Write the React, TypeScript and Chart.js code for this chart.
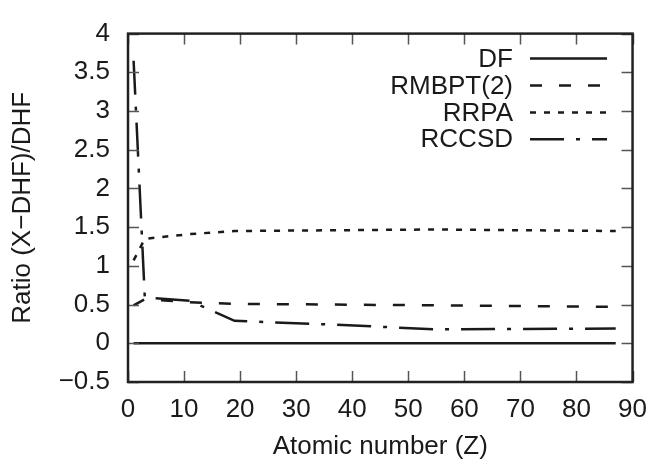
import React, { useEffect, useRef } from 'react';
import { Chart, registerables } from 'chart.js';

Chart.register(...registerables);

// Atomic numbers (H, Li, Na, K, Rb, Cs, Fr)
const atomicNumbers = [1, 3, 11, 19, 37, 55, 87];
const dfValues = [0, 0, 0, 0, 0, 0, 0];
const rmbptValues = [0.49, 0.57, 0.53, 0.51, 0.5, 0.49, 0.47];
const rrpaValues = [1.07, 1.35, 1.41, 1.45, 1.46, 1.47, 1.45];
const rccsdValues = [3.65, 0.59, 0.55, 0.29, 0.24, 0.18, 0.19];
const seriesLabels = ['DF', 'RMBPT(2)', 'RRPA', 'RCCSD'];
const xTickValues = [0, 10, 20, 30, 40, 50, 60, 70, 80, 90];
const yTickValues = [-0.5, 0, 0.5, 1, 1.5, 2, 2.5, 3, 3.5, 4];
const xTitle = 'Atomic number (Z)';
const yTitle = 'Ratio (X\u2212DHF)/DHF';

const FONT = '"Liberation Sans", Arial, Helvetica, sans-serif';
const INK = '#1a1a1a';

const toPoints = (vals: number[]) => atomicNumbers.map((z, i) => ({ x: z, y: vals[i] }));

const fmt = (v: number) => (v < 0 ? '\u2212' + Math.abs(v) : String(v));

const framePlugin = {
  id: 'frameAndLegend',
  afterDraw(chart: any) {
    const { ctx, chartArea: a, scales } = chart;
    const xs = scales.x;
    const ys = scales.y;
    ctx.save();
    // inward mirrored ticks
    ctx.strokeStyle = '#555';
    ctx.lineWidth = 1.5;
    ctx.beginPath();
    const tl = 11;
    xs.ticks.forEach((t: any) => {
      const px = Math.round(xs.getPixelForValue(t.value)) + 0.5;
      ctx.moveTo(px, a.bottom);
      ctx.lineTo(px, a.bottom - tl);
      ctx.moveTo(px, a.top);
      ctx.lineTo(px, a.top + tl);
    });
    ys.ticks.forEach((t: any) => {
      const py = Math.round(ys.getPixelForValue(t.value)) + 0.5;
      ctx.moveTo(a.left, py);
      ctx.lineTo(a.left + tl, py);
      ctx.moveTo(a.right, py);
      ctx.lineTo(a.right - tl, py);
    });
    ctx.stroke();
    // frame
    ctx.strokeStyle = '#222';
    ctx.lineWidth = 2.5;
    ctx.strokeRect(a.left, a.top, a.right - a.left, a.bottom - a.top);

    // legend (text right-aligned, sample at right)
    ctx.font = '26px ' + FONT;
    ctx.textAlign = 'right';
    ctx.textBaseline = 'middle';
    chart.data.datasets.forEach((ds: any, i: number) => {
      const y = a.top + 25 + i * 26.9;
      ctx.fillStyle = INK;
      ctx.fillText(ds.label, 513, y + 1);
      ctx.strokeStyle = ds.borderColor;
      ctx.lineWidth = ds.borderWidth;
      ctx.setLineDash(ds.borderDash || []);
      ctx.lineDashOffset = 0;
      ctx.beginPath();
      ctx.moveTo(530, y);
      ctx.lineTo(607, y);
      ctx.stroke();
      ctx.setLineDash([]);
    });
    ctx.restore();
  },
};

export default function App() {
  const ref = useRef<HTMLCanvasElement>(null);
  useEffect(() => {
    if (!ref.current) return;
    const common = { borderColor: INK, borderWidth: 2.5, pointRadius: 0, tension: 0, fill: false };
    const chart = new Chart(ref.current, {
      type: 'line',
      data: {
        datasets: [
          { ...common, label: seriesLabels[0], data: toPoints(dfValues), borderDash: [] },
          { ...common, label: seriesLabels[1], data: toPoints(rmbptValues), borderDash: [12, 17] },
          { ...common, label: seriesLabels[2], data: toPoints(rrpaValues), borderDash: [6, 8] },
          { ...common, label: seriesLabels[3], data: toPoints(rccsdValues), borderDash: [34, 12, 4, 12] },
        ],
      },
      options: {
        responsive: false,
        animation: false,
        layout: { padding: { top: 12, right: 20, left: 0, bottom: 0 } },
        plugins: { legend: { display: false }, tooltip: { enabled: false } },
        scales: {
          x: {
            type: 'linear',
            min: 0,
            max: 90,
            afterBuildTicks: (s: any) => {
              s.ticks = xTickValues.map((v) => ({ value: v }));
            },
            afterFit: (s: any) => {
              s.height = 85;
            },
            grid: { display: false, drawTicks: false },
            border: { display: false },
            ticks: {
              padding: 12,
              color: INK,
              font: { family: FONT, size: 26, lineHeight: 1.2 },
              maxRotation: 0,
              autoSkip: false,
              callback: (v: any) => fmt(Number(v)),
            },
            title: {
              display: true,
              text: xTitle,
              color: INK,
              font: { family: FONT, size: 26, lineHeight: 1.2 },
              padding: { top: 0, bottom: 5 },
            },
          },
          y: {
            type: 'linear',
            min: -0.5,
            max: 4,
            afterBuildTicks: (s: any) => {
              s.ticks = yTickValues.map((v) => ({ value: v }));
            },
            afterFit: (s: any) => {
              s.width = 128;
            },
            grid: { display: false, drawTicks: false },
            border: { display: false },
            ticks: {
              padding: 18,
              color: INK,
              font: { family: FONT, size: 26, lineHeight: 1.2 },
              autoSkip: false,
              callback: (v: any) => fmt(Number(v)),
            },
            title: {
              display: true,
              text: yTitle,
              color: INK,
              font: { family: FONT, size: 26, lineHeight: 1.2 },
              padding: { top: 7, bottom: 0 },
            },
          },
        },
      } as any,
      plugins: [framePlugin],
    });
    return () => chart.destroy();
  }, []);
  return (
    <div style={{ position: 'fixed', left: 0, top: 0, width: 659, height: 467, background: '#fff' }}>
      <canvas ref={ref} width={659} height={467} style={{ display: 'block' }} />
    </div>
  );
}
